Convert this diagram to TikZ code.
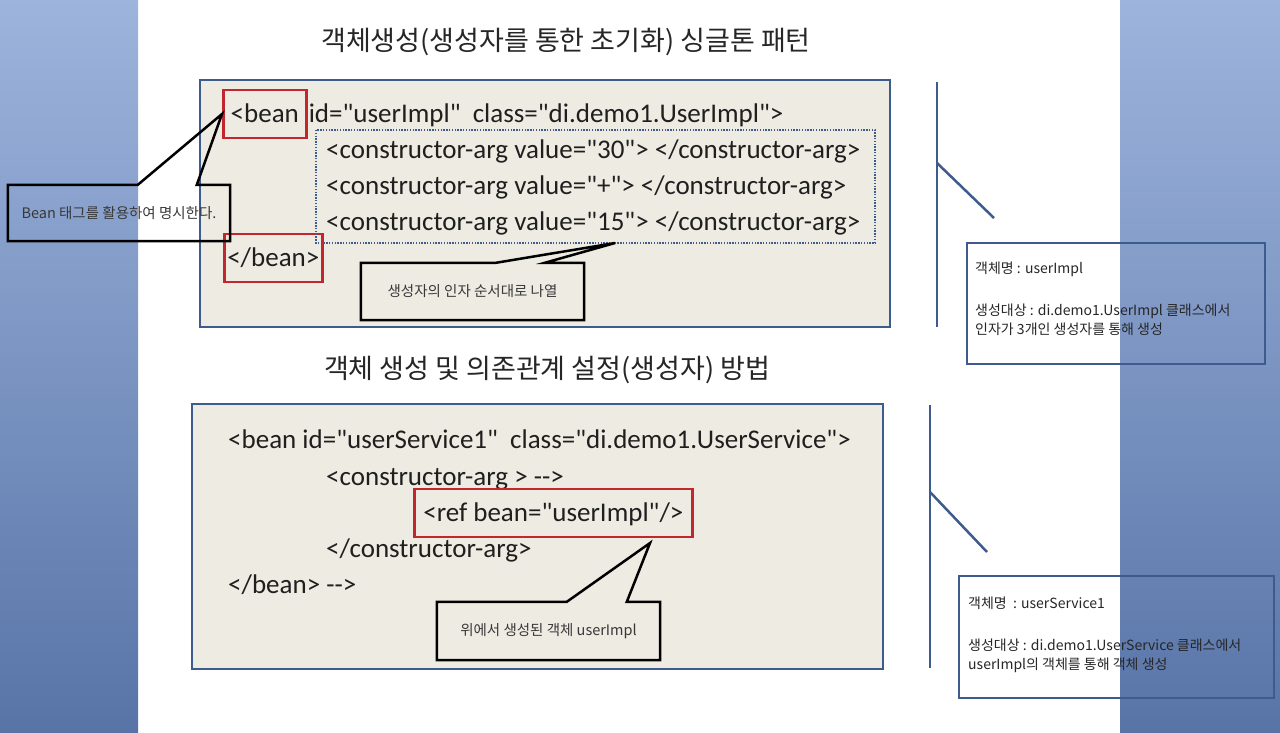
\documentclass[tikz,border=0pt]{standalone}
\usepackage{fontspec}
\setmainfont{Carlito}[Ligatures=TeXOff]
\newfontfamily\kr{Noto Sans CJK KR}
\usetikzlibrary{calc, positioning}

\definecolor{stripTop}{HTML}{9DB4DC}
\definecolor{stripBottom}{HTML}{5874A7}
\definecolor{codeFill}{HTML}{EDEBE2}
\definecolor{frameBlue}{HTML}{3E5B8E}
\definecolor{markRed}{HTML}{C1272D}

\begin{document}
\begin{tikzpicture}[x=1pt, y=-1pt,
	codeline/.style={anchor=base west, inner sep=0pt, font=\fontsize{27}{32}\selectfont, text=black!88},
	markbox/.style={draw=markRed, line width=2.6pt, anchor=base west, inner xsep=5pt, inner ysep=8pt,
		text height=24pt, text depth=8pt, font=\fontsize{27}{32}\selectfont, text=black!88},
	heading/.style={font=\kr\fontsize{27}{32}\selectfont, text=black!85},
	notetext/.style={inner sep=0pt, font=\kr\fontsize{14.5}{17}\selectfont, text=black!78},
	infotext/.style={anchor=north west, align=left, inner sep=0pt, font=\kr\fontsize{14}{19.5}\selectfont, text=black!85},
	calloutline/.style={draw=black, line width=2.5pt, line join=miter},
	frame/.style={draw=frameBlue, line width=2.2pt},
	guide/.style={draw=frameBlue, line width=2.5pt}
]

	% Page and side strips
	\fill[white] (0,0) rectangle (1280,732);
	\shade[top color=stripTop, bottom color=stripBottom] (0,0) rectangle (138,732);
	\shade[top color=stripTop, bottom color=stripBottom] (1120,0) rectangle (1280,732);

	% Singleton part
	\node[heading] (titleSingleton) at (566,42) {객체생성(생성자를 통한 초기화) 싱글톤 패턴};
	\draw[frame, fill=codeFill] (200,80) rectangle (890,327);

	\node[markbox, minimum width=83] (beanOpen) at (222,122) {<bean};
	\node[codeline] (beanAttr) at ($(beanOpen.base east)+(1,0)$) {id="userImpl"\ \ class="di.demo1.UserImpl">};
	\node[codeline] (argA) at (326,158) {<constructor-arg value="30"> </constructor-arg>};
	\node[codeline] (argB) at (326,194) {<constructor-arg value="+"> </constructor-arg>};
	\node[codeline] (argC) at (326,230) {<constructor-arg value="15"> </constructor-arg>};
	\node[markbox, inner xsep=3pt] (beanClose) at (223,266) {</bean>};

	\coordinate (argsTopLeft) at (316,130);
	\coordinate (argsBottomRight) at (875,243);
	\draw[frameBlue, line width=1.4pt, dash pattern=on 1.4pt off 1.4pt] (argsTopLeft) rectangle (argsBottomRight);

	% Callouts of the singleton part
	\node[notetext, minimum width=222, minimum height=56] (noteBean) at (119,213) {Bean 태그를 활용하여 명시한다.};
	\draw[calloutline] (noteBean.north west) -- ($(noteBean.north west)+(130,0)$) -- (beanOpen.west) --
		($(noteBean.north west)+(189,0)$) -- (noteBean.north east) -- (noteBean.south east) --
		(noteBean.south west) -- cycle;

	\coordinate (argsTip) at (615,243);
	\node[notetext, minimum width=223, minimum height=57] (noteArgs) at (472.5,291.5) {생성자의 인자 순서대로 나열};
	\draw[calloutline] (noteArgs.north west) -- ($(noteArgs.north west)+(135,0)$) -- (argsTip) --
		($(noteArgs.north west)+(184,0)$) -- (noteArgs.north east) -- (noteArgs.south east) --
		(noteArgs.south west) -- cycle;

	% Info of the singleton part
	\draw[guide] (937,82) -- (937,327);
	\draw[guide] (937,163) -- (994,218);
	\node[frame, minimum width=298, minimum height=121, anchor=north west] (infoImpl) at (966,242) {};
	\node[infotext] (infoImplText) at ($(infoImpl.north west)+(9,20)$)
		{객체명 : userImpl\\[22pt] 생성대상 : di.demo1.UserImpl 클래스에서\\ 인자가 3개인 생성자를 통해 생성};

	% Dependency part
	\node[heading] (titleDepend) at (547,370) {객체 생성 및 의존관계 설정(생성자) 방법};
	\draw[frame, fill=codeFill] (192,404) rectangle (883,669);

	\node[codeline] (serviceOpen) at (228,448) {<bean id="userService1"\ \ class="di.demo1.UserService">};
	\node[codeline] (ctorOpen) at (326,485) {<constructor-arg > -->};
	\node[markbox, inner xsep=9pt] (refBean) at (413,521) {<ref bean="userImpl"/>};
	\node[codeline] (ctorClose) at (326,557) {</constructor-arg>};
	\node[codeline] (serviceClose) at (228,593) {</bean> -->};

	% Callout of the dependency part
	\coordinate (refTip) at (650,543);
	\node[notetext, minimum width=223, minimum height=58] (noteRef) at (548.5,631) {위에서 생성된 객체 userImpl};
	\draw[calloutline] (noteRef.north west) -- ($(noteRef.north west)+(130,0)$) -- (refTip) --
		($(noteRef.north west)+(190,0)$) -- (noteRef.north east) -- (noteRef.south east) --
		(noteRef.south west) -- cycle;

	% Info of the dependency part
	\draw[guide] (930,405) -- (930,668);
	\draw[guide] (930,492) -- (987,552);
	\node[frame, minimum width=315, minimum height=122, anchor=north west] (infoService) at (958,575) {};
	\node[infotext] (infoServiceText) at ($(infoService.north west)+(10,22)$)
		{객체명\ \ : userService1\\[22pt] 생성대상 : di.demo1.UserService 클래스에서\\ userImpl의 객체를 통해 객체 생성};

\end{tikzpicture}
\end{document}
